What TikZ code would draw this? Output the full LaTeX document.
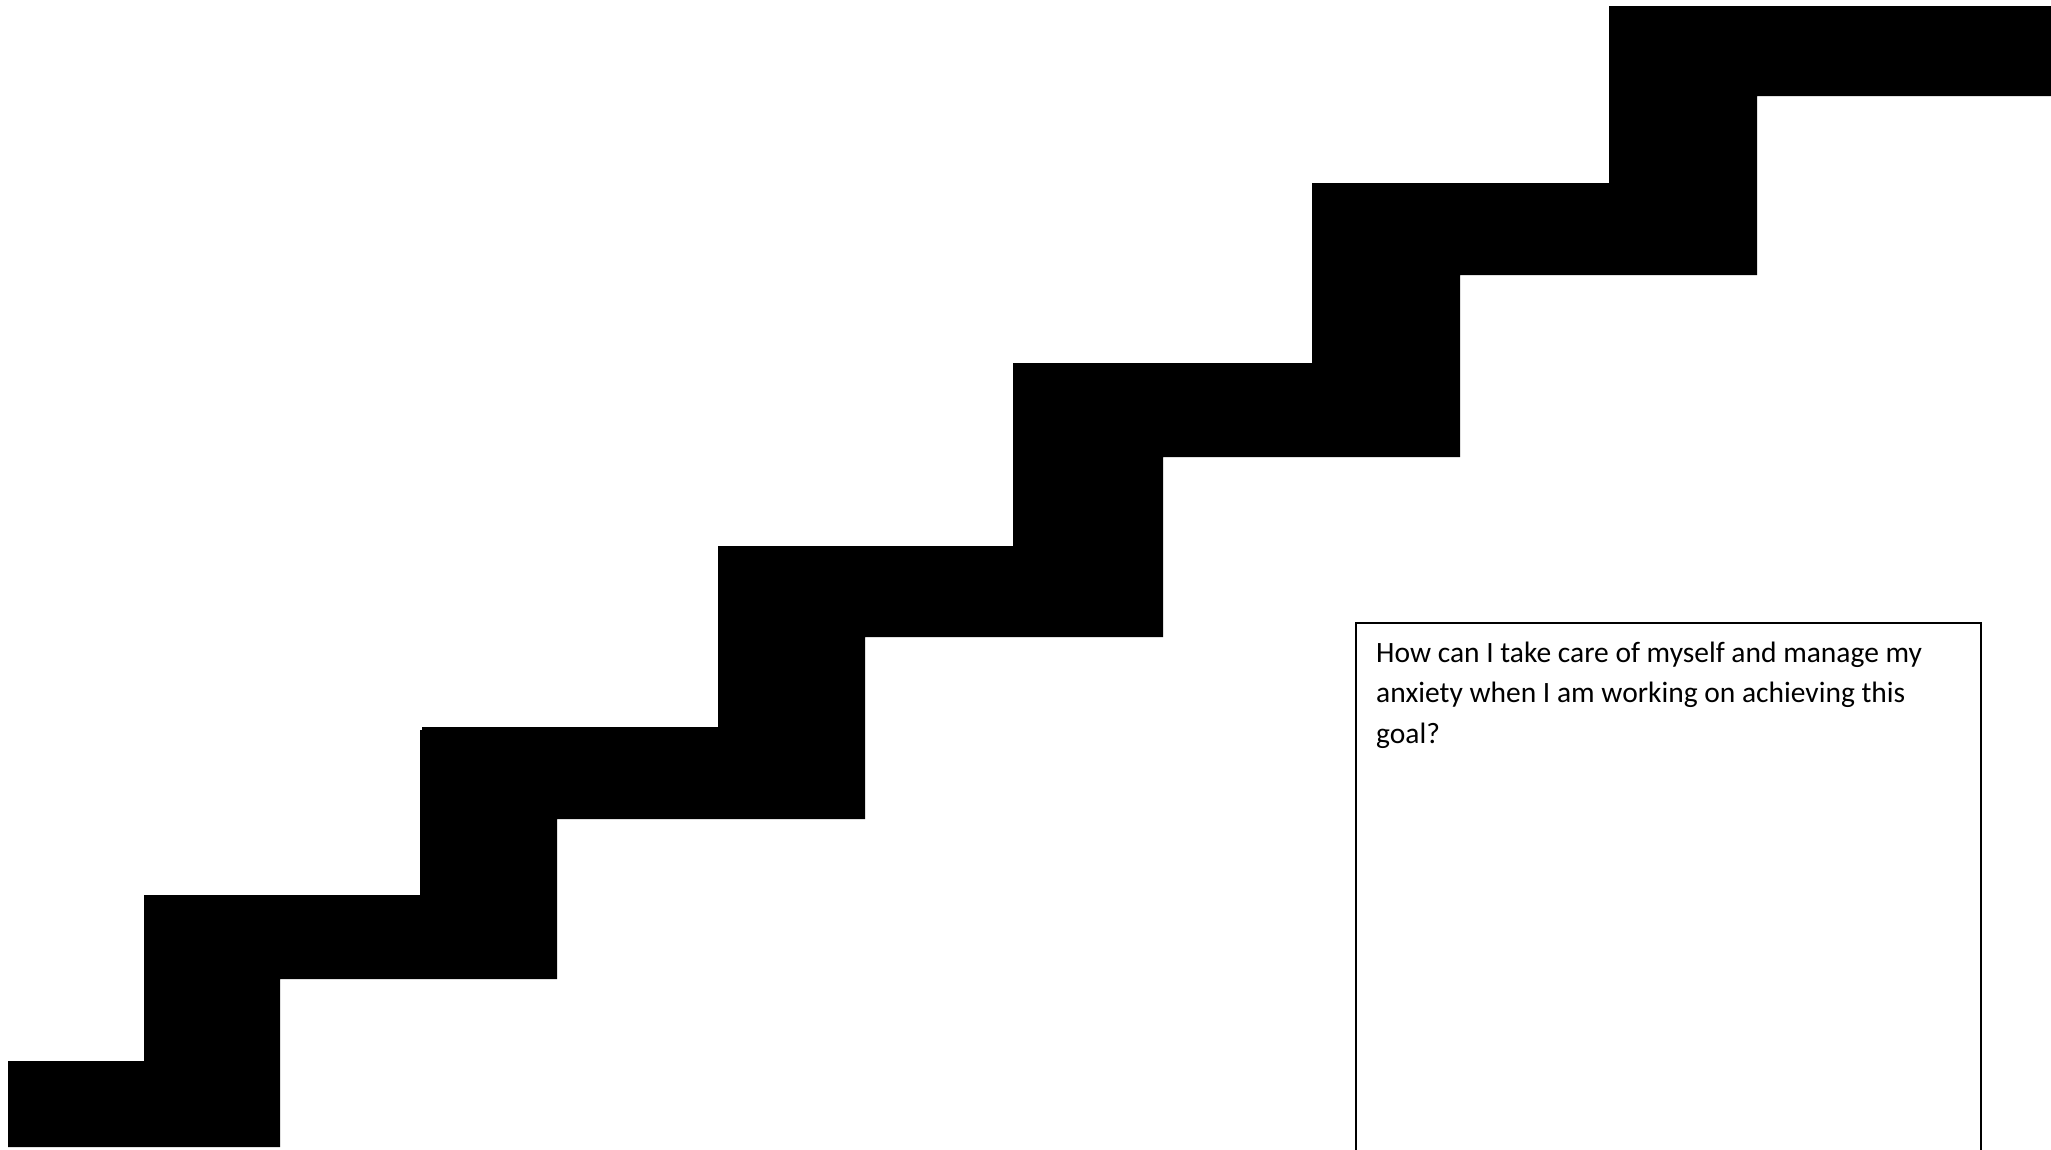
\documentclass[tikz,border=0pt]{standalone}
\usepackage{fontspec}
\setmainfont{Carlito}
\begin{document}
\begin{tikzpicture}[x=1pt,y=-1pt,
  stair/.style={fill=black,draw=none},
  answerbox/.style={draw=black,line width=1.5pt},
  question/.style={anchor=base west,inner sep=0pt,font=\fontsize{29.5}{40.5}\selectfont,text=black}]
\useasboundingbox (0,0) rectangle (2051,1149);
\fill[white] (0,0) rectangle (2051,1149);
% staircase
\path[stair] (8,1147) -- (8,1061) -- (144,1061) -- (144,895) -- (420,895)
  -- (420,730) -- (422,730) -- (422,727) -- (718,727) -- (718,546)
  -- (1013,546) -- (1013,363) -- (1312,363) -- (1312,183) -- (1609,183)
  -- (1609,6) -- (2051,6) -- (2051,96) -- (1757,96) -- (1757,275)
  -- (1460,275) -- (1460,457) -- (1163,457) -- (1163,637) -- (865,637)
  -- (865,819) -- (557,819) -- (557,979) -- (280,979) -- (280,1147) -- cycle;
% answer box (open at the bottom, cut by the page edge)
\draw[answerbox] (1356,1152) -- (1356,623) -- (1981,623) -- (1981,1152);
\node[question] (q1) at (1376,662) {How can I take care of myself and manage my};
\node[question] (q2) at (1376,702.5) {anxiety when I am working on achieving this};
\node[question] (q3) at (1376,743) {goal?};
\end{tikzpicture}
\end{document}
